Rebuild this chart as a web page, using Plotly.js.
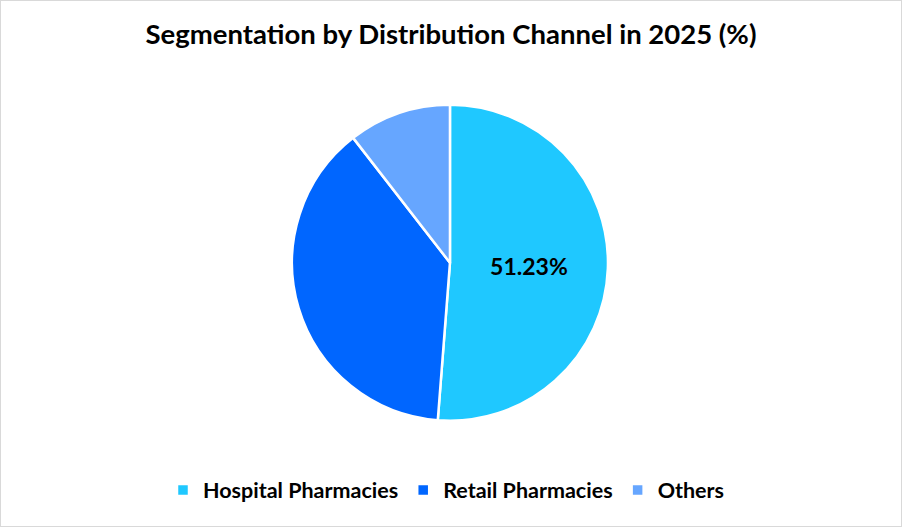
<!DOCTYPE html>
<html>
<head>
<meta charset="utf-8">
<script src="https://cdn.plot.ly/plotly-3.0.1.min.js"></script>
<style>
html,body{margin:0;padding:0;background:#fff;}
#chart{width:900px;height:525px;border:1px solid #d9d9d9;}
</style>
</head>
<body>
<div id="chart"></div>
<script>
const categories = ['Hospital Pharmacies', 'Retail Pharmacies', 'Others'];
const shares = [51.23, 38.27, 10.5];
const sliceLabels = ['51.23%', '', ''];
const colors = ['#1FC8FF', '#0066FF', '#66A6FF'];

const trace = {
  type: 'pie',
  labels: categories,
  values: shares,
  text: sliceLabels,
  textinfo: 'text',
  textposition: 'inside',
  insidetextorientation: 'horizontal',
  sort: false,
  direction: 'clockwise',
  rotation: 0,
  marker: {colors: colors, line: {color: '#ffffff', width: 2.5}},
  textfont: {family: 'Lato, "Open Sans", sans-serif', size: 23, color: '#000000', weight: 'bold'},
  hoverinfo: 'label+percent',
  domain: {x: [0.3233, 0.6744], y: [0.198, 0.805]}
};

const layout = {
  width: 900,
  height: 525,
  margin: {l: 0, r: 0, t: 0, b: 0},
  paper_bgcolor: '#ffffff',
  title: {
    text: '<b>Segmentation by Distribution Channel in 2025 (%)</b>',
    font: {family: 'Lato, "Open Sans", sans-serif', size: 27.5, color: '#000000'},
    x: 0.5, xanchor: 'center',
    y: 1 - 33/525, yref: 'container', yanchor: 'middle'
  },
  showlegend: true,
  legend: {
    orientation: 'h',
    x: 0.495, xanchor: 'center',
    y: 1 - 489/525, yanchor: 'middle',
    font: {family: 'Lato, "Open Sans", sans-serif', size: 21.5, color: '#000000', weight: 'bold'},
    itemwidth: 30,
    traceorder: 'normal'
  }
};

Plotly.newPlot('chart', [trace], layout, {displayModeBar: false, staticPlot: true});
</script>
</body>
</html>
